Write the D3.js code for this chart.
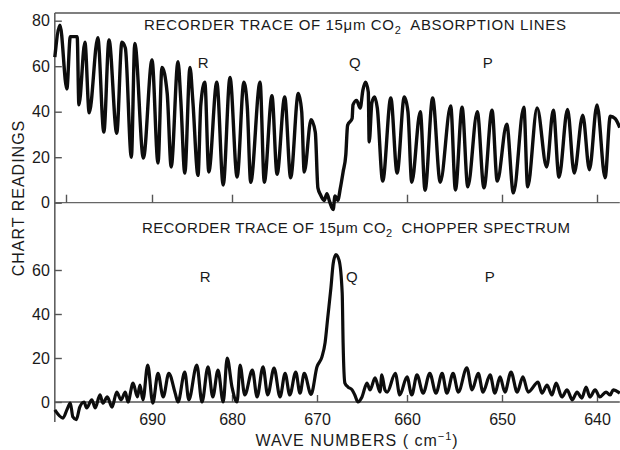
<!DOCTYPE html>
<html lang="en">
	<head>
		<meta charset="utf-8">
		<title>Recorder traces of 15 μm CO2</title>
		<script type="text/javascript" src="https://d3js.org/d3.v7.min.js"></script>
		<style type="text/css">
			body { margin: 0; background: #fff; }
			svg text { font-family: "Liberation Sans", Arial, sans-serif; fill: #1a1a1a; }
		</style>
	</head>
	<body>
		<script type="text/javascript">

			// data (wave number in cm-1, chart reading)
			var absWave = [701.3,700.7,699.9,699.5,698.7,698.5,697.8,697.3,696.3,695.6,695.0,694.1,693.5,693.1,692.4,692.0,691.0,690.0,
				689.25,688.75,688.1,687.6,686.75,686.4,685.9,685.25,684.9,684.25,683.9,683.4,682.9,681.9,681.1,680.25,679.4,678.6,678.2,
				677.8,676.7,676.2,675.3,674.7,673.8,673.1,672.2,671.8,671.5,670.7,670.2,669.9,669.6,669.2,668.9,668.6,668.2,668.0,667.7,
				667.4,667.1,666.8,666.6,666.1,666.0,665.6,665.2,664.9,664.6,664.3,664.2,663.9,663.6,663.3,662.7,661.8,661.1,660.3,659.9,
				659.5,658.6,658.1,657.3,656.5,655.4,654.9,654.2,653.6,652.6,651.9,651.05,650.5,649.5,648.8,647.7,647.3,646.3,645.3,644.6,
				644.0,643.1,642.4,641.5,640.8,640.0,639.15,638.6,638.1,637.6];
			var absReading = [64,78,50,73,73,43,70.5,39.5,72.5,31,71.5,30.5,70.5,68,20,70,19.6,62.7,
				17.4,59.5,48,15.7,62,45,13,59.5,45,12,43,53,13.5,53,7.8,55,11.3,53,42,
				9,53,9,47,12.5,46.5,11,48,40,13.5,36.5,31,6.5,3.4,1,4,0.5,-3,3,1,
				6.5,13.5,21,34,37,43,45,41.6,49.5,53,48.6,26.7,44,46.5,41.6,9.5,46,13,46.5,40,
				9,40,5.5,46,9,42.5,5.6,42,7,40,6.5,40.7,9.5,34.5,4.3,42,7,41.6,15.7,40.7,
				11.2,41,13,38.5,14.5,43,11,38,37,33];

			var chopWave = [701.3,700.35,699.9,699.5,699.2,698.8,698.4,697.9,697.6,697.0,696.6,696.05,695.7,695.2,694.65,694.1,693.6,
				693.1,692.8,692.2,691.7,691.4,691.05,690.5,689.9,689.25,688.6,687.9,687.1,686.75,685.9,685.4,684.4,683.75,683.0,682.4,
				681.75,681.1,680.6,680.0,679.4,679.05,678.5,677.6,677.05,676.35,675.8,675.05,674.35,673.75,673.2,672.5,672.0,671.5,
				670.7,670.0,669.45,669.1,668.8,668.45,668.2,667.9,667.55,667.2,667.1,666.9,666.55,666.1,665.8,665.45,665.0,664.45,
				664.1,663.55,663.0,662.8,662.45,662.2,661.3,660.8,660.0,659.5,658.95,658.3,657.6,656.95,656.3,655.8,655.15,654.6,
				653.7,653.15,652.5,652.0,651.25,650.75,650.2,649.7,649.05,648.4,647.8,647.25,646.2,645.8,645.25,644.75,644.3,643.7,
				643.15,642.6,642.1,641.6,641.15,640.75,640.2,639.7,639.05,638.6,638.3,637.6];
			var chopReading = [-3.6,-7.3,-3.6,-0.5,-6.8,-8,-2.3,0,-2.7,1,-2.7,3.2,-0.5,2.3,-2.3,4.5,1,
				4.5,0,8.6,2.3,7.7,1,16.8,-0.5,13,2.3,13,4,0,13.6,1,16.8,0,16,2.3,
				14.5,0,20,6.8,0,16.8,3.2,14.5,2.3,16,3.2,15.4,2.3,13,3.2,13.6,4,13,
				3.5,16,20.5,27,38.6,52,63,67,64.5,49.5,27,8.6,6.8,5.5,3.2,0,2.3,8.6,
				5.5,11,4.5,12.3,5.5,4.5,13,3.2,11.4,3.2,12.3,4,13,4,13,4,13,4.5,
				15.5,5.5,13,4.5,12.3,4,11.4,4.5,13.6,4.5,11.4,4.5,9,4,7.7,3.2,8.6,2.3,
				5.5,1,4.5,1.8,6.8,2.3,5.5,2.3,4.5,3.2,5.5,4];

			var waveTicks = [700, 690, 680, 670, 660, 650, 640];
			var topWaveTicks = [700, 690, 680, 660, 650, 640];
			var bottomWaveTicks = [690, 680, 670, 660, 650, 640];
			var topReadTicks = [0, 20, 40, 60, 80];
			var bottomReadTicks = [0, 20, 40, 60];
			var branchLabels = ["R", "Q", "P"];
			var branchWave = [683.6, 665.8, 651.5];

			var w = 620;
			var h = 450;

			// the chart paper is not linear in wave number, so map each tick
			var x = d3.scaleLinear()
				.domain(waveTicks)
				.range([66, 152, 232, 317, 407, 502, 597]);

			var yTop = d3.scaleLinear().domain([0, 80]).range([202.7, 20.7]);
			var yBot = d3.scaleLinear().domain([0, 60]).range([402, 270]);

			var svg = d3.select("body")
				.append("svg")
				.attr("width", w)
				.attr("height", h);

			var x0 = x(absWave[0]);
			var x1 = x(absWave[absWave.length - 1]);

			// frame lines
			svg.append("line").attr("x1", x0).attr("x2", x0).attr("y1", 13).attr("y2", 422)
				.attr("stroke", "#555").attr("stroke-width", 1.5);
			svg.append("line").attr("x1", x0).attr("x2", w).attr("y1", 13).attr("y2", 13)
				.attr("stroke", "#555").attr("stroke-width", 1.5);
			svg.append("line").attr("x1", x0).attr("x2", x1).attr("y1", yTop(0)).attr("y2", yTop(0))
				.attr("stroke", "#666").attr("stroke-width", 1.2);
			svg.append("line").attr("x1", x0).attr("x2", x1).attr("y1", yBot(0)).attr("y2", yBot(0))
				.attr("stroke", "#555").attr("stroke-width", 1.5);

			// x axes (ticks point up)
			var topAxis = svg.append("g")
				.attr("transform", "translate(0," + yTop(0) + ")")
				.call(d3.axisBottom(x).tickValues(topWaveTicks).tickSize(-8).tickFormat(""));
			var botAxis = svg.append("g")
				.attr("transform", "translate(0," + yBot(0) + ")")
				.call(d3.axisBottom(x).tickValues(bottomWaveTicks).tickSize(-7).tickPadding(12));

			// y axes (ticks point in)
			var leftTop = svg.append("g")
				.attr("transform", "translate(" + x0 + ",0)")
				.call(d3.axisLeft(yTop).tickValues(topReadTicks).tickSize(-7).tickPadding(5));
			var leftBot = svg.append("g")
				.attr("transform", "translate(" + x0 + ",0)")
				.call(d3.axisLeft(yBot).tickValues(bottomReadTicks).tickSize(-7).tickPadding(5));

			[topAxis, botAxis, leftTop, leftBot].forEach(function(g) {
				g.select(".domain").remove();
				g.selectAll(".tick line").attr("stroke", "#555").attr("stroke-width", 1.4);
				g.selectAll(".tick text")
					.style("font-family", "'Liberation Sans', Arial, sans-serif")
					.style("font-size", "16px")
					.attr("fill", "#1a1a1a");
			});

			// traces
			var lineTop = d3.line()
				.x(function(d, i) { return x(absWave[i]); })
				.y(function(d) { return yTop(d); })
				.curve(d3.curveMonotoneX);
			var lineBot = d3.line()
				.x(function(d, i) { return x(chopWave[i]); })
				.y(function(d) { return yBot(d); })
				.curve(d3.curveMonotoneX);

			svg.append("path")
				.attr("d", lineTop(absReading))
				.attr("fill", "none")
				.attr("stroke", "#0d0d0d")
				.attr("stroke-width", 3.4)
				.attr("stroke-linejoin", "round");
			svg.append("path")
				.attr("d", lineBot(chopReading))
				.attr("fill", "none")
				.attr("stroke", "#0d0d0d")
				.attr("stroke-width", 3.2)
				.attr("stroke-linejoin", "round");

			// titles
			function title(yy, x0, len, rest) {
				var t = svg.append("text")
					.attr("x", x0).attr("y", yy)
					.attr("textLength", len)
					.attr("lengthAdjust", "spacing")
					.style("font-size", "15px");
				t.append("tspan").text("RECORDER TRACE OF 15\u03bcm CO");
				t.append("tspan").attr("dy", 4).style("font-size", "11px").text("2");
				t.append("tspan").attr("dy", -4).text("\u00a0 " + rest);
			}
			title(30, 144, 422, "ABSORPTION LINES");
			title(233, 142, 428, "CHOPPER SPECTRUM");

			// branch letters
			svg.selectAll(".btop")
				.data(branchLabels)
				.enter()
				.append("text")
				.attr("x", function(d, i) { return x(branchWave[i]); })
				.attr("y", 68)
				.attr("text-anchor", "middle")
				.style("font-size", "15px")
				.text(function(d) { return d; });
			svg.selectAll(".bbot")
				.data(branchLabels)
				.enter()
				.append("text")
				.attr("x", function(d, i) { return x(branchWave[i]) + (i == 1 ? -3 : 2); })
				.attr("y", 282)
				.attr("text-anchor", "middle")
				.style("font-size", "15px")
				.text(function(d) { return d; });

			// axis titles
			svg.append("text")
				.attr("transform", "translate(24,198) rotate(-90)")
				.attr("text-anchor", "middle")
				.style("font-size", "16px")
				.style("letter-spacing", "1px")
				.text("CHART READINGS");

			var xt = svg.append("text")
				.attr("x", 357).attr("y", 446)
				.attr("text-anchor", "middle")
				.style("font-size", "16px")
				.style("letter-spacing", "1px");
			xt.append("tspan").text("WAVE NUMBERS ( cm");
			xt.append("tspan").attr("dy", -6).style("font-size", "11px").text("\u22121");
			xt.append("tspan").attr("dy", 6).text(")");

		</script>
	</body>
</html>
